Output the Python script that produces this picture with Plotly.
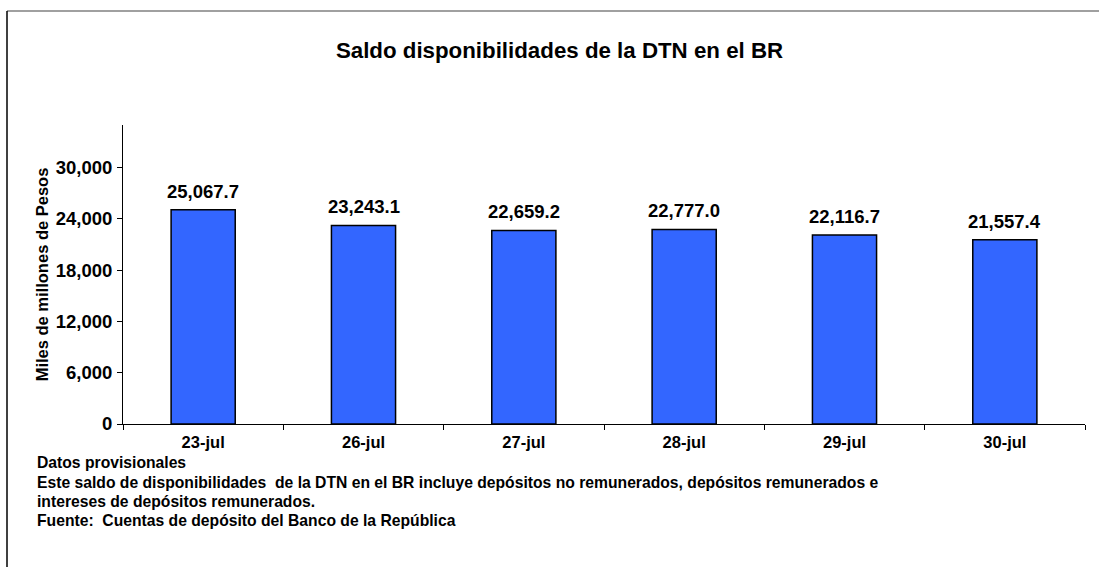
import plotly.graph_objects as go

categories = ["23-jul", "26-jul", "27-jul", "28-jul", "29-jul", "30-jul"]
values = [25067.7, 23243.1, 22659.2, 22777.0, 22116.7, 21557.4]
y_ticks = [0, 6000, 12000, 18000, 24000, 30000]

W, H = 1099, 567
L, R, T, B = 123, 14, 125, 143
FONT = "Liberation Sans, Arial, sans-serif"

fig = go.Figure(go.Bar(
    x=categories, y=values,
    marker=dict(color="#3366FF", line=dict(color="black", width=1.5)),
    width=0.4,
    hoverinfo="x+y",
))

# value labels above bars
for c, v in zip(categories, values):
    fig.add_annotation(x=c, y=v, xref="x", yref="y", text=f"<b>{v:,.1f}</b>",
                       showarrow=False, yanchor="bottom", yshift=6,
                       font=dict(size=18.5, color="black", family=FONT))

fig.update_layout(
    width=W, height=H,
    margin=dict(l=L, r=R, t=T, b=B, autoexpand=False),
    paper_bgcolor="white", plot_bgcolor="white",
    showlegend=False,
    font=dict(family=FONT, color="black"),
    title=dict(text="<b>Saldo disponibilidades de la DTN en el BR</b>",
               x=559.5 / W, xref="container", xanchor="center",
               y=1 - 50 / H, yref="container", yanchor="middle",
               font=dict(size=22.3, color="black", family=FONT)),
)
fig.update_xaxes(
    showline=True, linecolor="black", linewidth=1,
    ticks="outside", tickson="boundaries", ticklen=5, tickcolor="black",
    tickfont=dict(size=16.5, color="black", family=FONT),
    tickprefix="<b>", ticksuffix="</b>",
    ticklabelstandoff=3,
    showgrid=False,
)
fig.update_yaxes(
    range=[0, 35000], tickvals=y_ticks,
    ticktext=[f"<b>{v:,}</b>" for v in y_ticks],
    showline=True, linecolor="black", linewidth=1,
    ticks="outside", ticklen=5, tickcolor="black",
    tickfont=dict(size=18.5, color="black", family=FONT),
    ticklabelstandoff=1,
    showgrid=False, zeroline=False,
    title=dict(text="<b>Miles de millones de Pesos</b>", standoff=2,
               font=dict(size=16.5, color="black", family=FONT)),
)


def px_x(x):
    return (x - L) / (W - L - R)


def px_y(y):
    return 1 - (y - T) / (H - T - B)


notes = [
    "Datos provisionales",
    "Este saldo de disponibilidades  de la DTN en el BR incluye depósitos no remunerados, depósitos remunerados e",
    "intereses de depósitos remunerados.",
    "Fuente:  Cuentas de depósito del Banco de la República",
]
ys = [462, 482, 501, 520]
for t, yy in zip(notes, ys):
    fig.add_annotation(text=f"<b>{t}</b>", xref="paper", yref="paper",
                       x=px_x(35), y=px_y(yy),
                       xanchor="left", yanchor="middle", showarrow=False,
                       font=dict(size=15.7, color="black", family=FONT))

# outer frame (top and left)
fig.add_shape(type="line", xref="paper", yref="paper",
              x0=px_x(7), x1=px_x(W), y0=px_y(11), y1=px_y(11),
              line=dict(color="#808080", width=1.5))
fig.add_shape(type="line", xref="paper", yref="paper",
              x0=px_x(7), x1=px_x(7), y0=px_y(11), y1=px_y(H),
              line=dict(color="black", width=1.5))

fig.write_html("out.html", config={"displayModeBar": False},
               post_script="document.body.style.margin='0';document.body.style.overflow='hidden';")
